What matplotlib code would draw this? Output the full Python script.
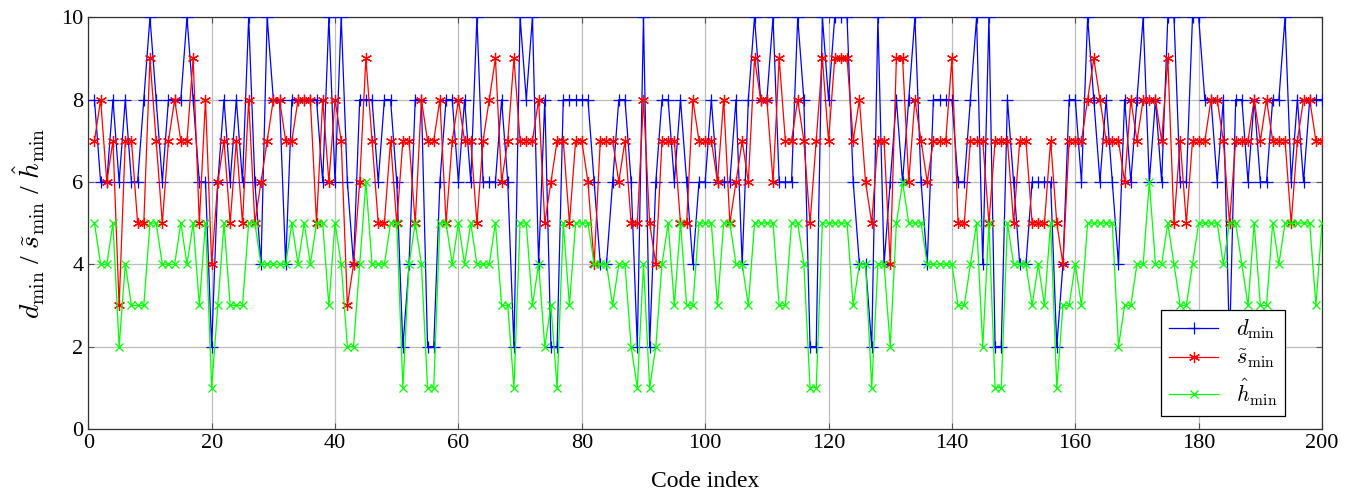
import numpy as np
import matplotlib
matplotlib.use("Agg")
import matplotlib.pyplot as plt

# values, code index 1..200
code_index = np.arange(1, 201)

d_min = [
    8, 6, 6, 8, 6, 8, 6, 6, 8, 10,
    8, 6, 8, 8, 8, 10, 8, 6, 6, 2,
    6, 8, 6, 8, 6, 10, 6, 4, 10, 8,
    8, 4, 8, 8, 8, 8, 8, 6, 10, 6,
    10, 6, 4, 8, 8, 8, 6, 8, 8, 6,
    2, 4, 8, 8, 2, 2, 6, 8, 8, 6,
    8, 6, 10, 6, 6, 6, 8, 6, 2, 10,
    8, 10, 4, 8, 2, 2, 8, 8, 8, 8,
    8, 6, 4, 4, 6, 8, 8, 6, 2, 10,
    2, 6, 8, 8, 6, 8, 6, 4, 6, 6,
    8, 6, 6, 6, 8, 4, 8, 10, 8, 8,
    10, 6, 6, 6, 10, 8, 2, 2, 10, 8,
    10, 10, 10, 6, 4, 4, 2, 10, 4, 6,
    8, 6, 8, 10, 6, 4, 8, 8, 8, 8,
    6, 6, 8, 10, 4, 10, 2, 2, 8, 6,
    4, 4, 6, 6, 6, 6, 2, 4, 8, 8,
    6, 10, 8, 6, 8, 6, 4, 8, 6, 8,
    10, 6, 8, 6, 10, 10, 6, 6, 10, 10,
    8, 8, 6, 8, 2, 8, 8, 6, 8, 6,
    6, 8, 8, 10, 6, 8, 6, 8, 8, 8,
]

s_min = [
    7, 8, 6, 7, 3, 7, 7, 5, 5, 9,
    7, 5, 7, 8, 7, 7, 9, 5, 8, 4,
    6, 7, 5, 7, 5, 8, 5, 6, 7, 8,
    8, 7, 7, 8, 8, 8, 5, 8, 6, 8,
    7, 3, 4, 6, 9, 7, 5, 5, 7, 5,
    7, 7, 5, 8, 7, 7, 8, 5, 7, 8,
    7, 7, 5, 7, 8, 9, 6, 7, 9, 7,
    7, 7, 8, 5, 6, 7, 7, 5, 7, 7,
    6, 4, 7, 7, 7, 6, 7, 5, 5, 8,
    5, 4, 7, 7, 7, 5, 5, 8, 7, 7,
    7, 6, 8, 5, 6, 7, 6, 9, 8, 8,
    6, 9, 7, 7, 8, 7, 5, 7, 9, 7,
    9, 9, 9, 7, 8, 6, 5, 7, 7, 4,
    9, 9, 6, 8, 7, 6, 7, 7, 7, 9,
    5, 5, 7, 7, 7, 5, 7, 7, 7, 5,
    7, 7, 5, 5, 5, 7, 5, 4, 7, 7,
    7, 8, 9, 8, 7, 7, 7, 6, 8, 7,
    8, 8, 8, 7, 9, 5, 7, 5, 7, 7,
    7, 8, 8, 7, 5, 7, 7, 7, 8, 7,
    8, 7, 7, 7, 5, 7, 8, 8, 7, 7,
]

h_min = [
    5, 4, 4, 5, 2, 4, 3, 3, 3, 5,
    5, 4, 4, 4, 5, 4, 5, 3, 5, 1,
    3, 5, 3, 3, 3, 5, 5, 4, 4, 4,
    4, 4, 5, 4, 5, 4, 5, 5, 3, 5,
    4, 2, 2, 4, 6, 4, 4, 4, 5, 5,
    1, 4, 5, 4, 1, 1, 5, 5, 4, 5,
    4, 5, 4, 4, 4, 5, 3, 3, 1, 5,
    5, 3, 4, 2, 3, 1, 5, 3, 5, 5,
    5, 4, 4, 4, 3, 4, 4, 2, 1, 4,
    1, 2, 4, 5, 3, 5, 3, 3, 5, 5,
    5, 3, 5, 5, 4, 4, 3, 5, 5, 5,
    5, 3, 3, 5, 5, 4, 1, 1, 5, 5,
    5, 5, 5, 3, 4, 4, 1, 4, 4, 2,
    5, 6, 5, 5, 5, 4, 4, 4, 4, 4,
    3, 3, 4, 5, 2, 5, 1, 1, 5, 4,
    4, 4, 3, 4, 3, 5, 1, 3, 3, 4,
    3, 5, 5, 5, 5, 5, 2, 3, 3, 4,
    4, 6, 4, 4, 5, 4, 3, 3, 4, 5,
    5, 5, 5, 4, 5, 5, 4, 3, 5, 3,
    3, 5, 4, 5, 5, 5, 5, 5, 3, 5,
]

plt.rcParams['font.family'] = ['Liberation Serif', 'DejaVu Serif']
plt.rcParams['mathtext.fontset'] = 'cm'
plt.rcParams['font.size'] = 15

fig = plt.figure(figsize=(13.54, 4.93), dpi=100)
ax = fig.add_axes([0.0652, 0.130, 0.9112, 0.835])

# pgfplots style asterisk: six spokes
asterisk = (6, 2, 0)

ax.plot(code_index, d_min, color=(0, 0, 1), lw=0.9, marker='+', ms=9, mew=0.9,
        label=r'$d_{\min}$', zorder=3)
ax.plot(code_index, s_min, color=(1, 0, 0), lw=0.9, marker=asterisk, ms=8, mew=0.9,
        label=r'$\tilde{s}_{\min}$', zorder=4)
ax.plot(code_index, h_min, color=(0, 1, 0), lw=0.9, marker='x', ms=6, mew=0.9,
        label=r'$\hat{h}_{\min}$', zorder=5)

ax.set_xlim(0, 200)
ax.set_ylim(0, 10)
ax.set_xticks(np.arange(0, 201, 20))
ax.set_yticks(np.arange(0, 11, 2))
ax.grid(True, color='#bdbdbd', lw=0.9)
ax.set_axisbelow(True)
ax.tick_params(direction='in', top=True, right=True, length=4, color='#555555',
               labelsize=16)
for sp in ax.spines.values():
    sp.set_linewidth(0.9)
    sp.set_color('#333333')

ax.set_xlabel('Code index', fontsize=17, labelpad=13)
ax.set_ylabel(r'$d_{\min}$ / $\tilde{s}_{\min}$ / $\hat{h}_{\min}$', fontsize=20,
              labelpad=10)

leg = ax.legend(loc='lower right', bbox_to_anchor=(0.970, 0.032), borderaxespad=0,
                fancybox=False, edgecolor='black', framealpha=1, fontsize=16,
                handlelength=2.2, labelspacing=0.3, borderpad=0.35)
leg.get_frame().set_linewidth(0.9)
leg.set_zorder(10)

fig.savefig('out.png', dpi=100)
